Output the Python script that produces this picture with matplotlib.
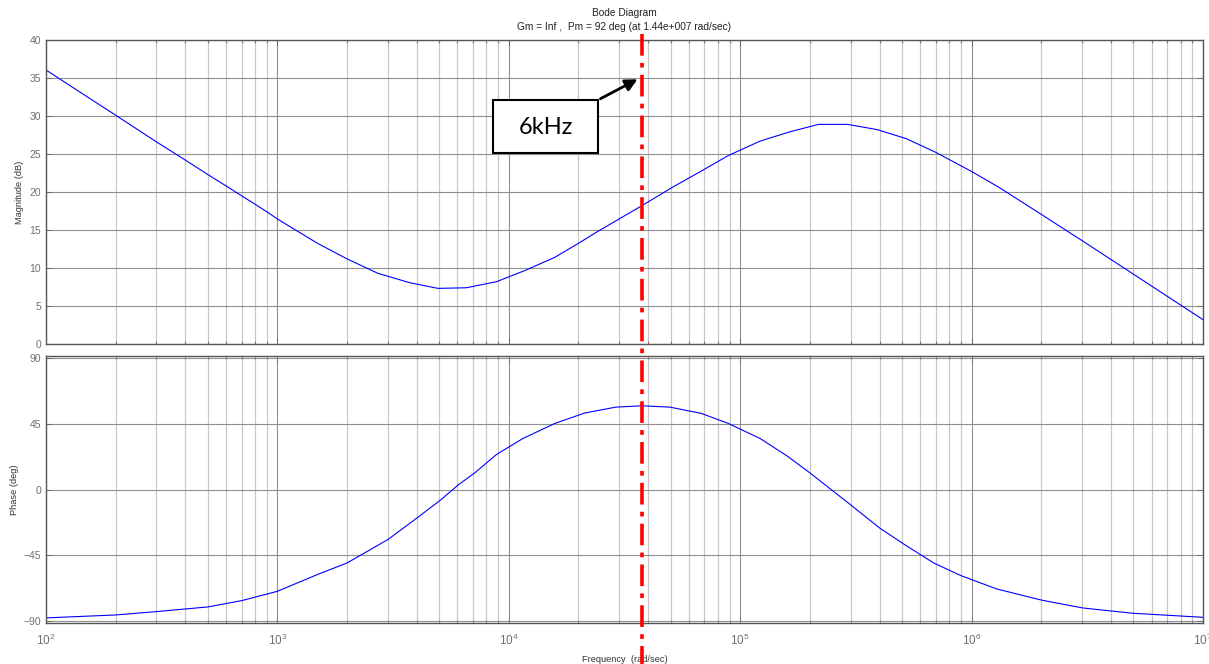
import numpy as np
import matplotlib
matplotlib.use('Agg')
import matplotlib.pyplot as plt
from matplotlib.patches import Rectangle, FancyArrowPatch

# magnitude curve (rad/sec, dB)
mag_freq = [100, 200, 300, 400, 500, 600, 700, 800, 900, 1000, 1490, 2000, 2717, 3725,
            4940, 6560, 8850, 11800, 15800, 20000, 24200, 37600, 50800, 66500, 88900,
            122000, 163000, 218000, 291000, 392000, 524000, 702000, 1000000, 1315000,
            2014000, 3020000, 4940000, 10000000]
mag_db = [36.05, 30.1, 26.6, 24.2, 22.3, 20.8, 19.5, 18.4, 17.4, 16.45, 13.25, 11.2, 9.3,
          8.07, 7.32, 7.4, 8.2, 9.7, 11.4, 13.25, 14.8, 18.2, 20.6, 22.6, 24.8, 26.7,
          27.9, 28.9, 28.9, 28.2, 27.0, 25.2, 22.7, 20.6, 17.0, 13.55, 9.3, 3.2]

# phase curve (rad/sec, deg)
ph_freq = [100, 200, 300, 500, 700, 1000, 1490, 2000, 3000, 4050, 5100, 6030, 7130,
           8850, 11500, 15800, 21200, 29000, 37600, 49700, 67900, 88900, 122000,
           160000, 200000, 299000, 400000, 513000, 686000, 897000, 1285000, 2014000,
           3020000, 4940000, 10000000]
ph_deg = [-87.9, -85.9, -83.6, -80.4, -76.1, -69.7, -58.2, -50.3, -34.3, -19.0, -6.9,
          3.0, 11.4, 24.0, 34.9, 45.2, 52.3, 56.4, 57.3, 56.4, 52.1, 45.2, 34.9, 22.8,
          11.4, -10.3, -26.3, -37.7, -50.3, -58.9, -68.1, -75.8, -81.1, -84.7, -87.5]

f_mark = 2 * np.pi * 6000  # 6 kHz in rad/sec

plt.rcParams['font.family'] = ['Liberation Sans', 'DejaVu Sans']

fig = plt.figure(figsize=(12.09, 6.64), dpi=100)
ax1 = fig.add_axes([46 / 1209, 1 - 344 / 664, 1157 / 1209, 304 / 664])
ax2 = fig.add_axes([46 / 1209, 1 - 623 / 664, 1157 / 1209, 267 / 664])
ax1.set_zorder(3)

for ax in (ax1, ax2):
    ax.set_xscale('log')
    ax.set_xlim(1e2, 1e7)
    ax.grid(True, which='major', axis='both', color='#909090', lw=0.8)
    ax.grid(True, which='minor', axis='x', color='#c8c8c8', lw=0.9)
    ax.set_axisbelow(True)
    ax.tick_params(which='both', direction='in', top=True, right=True,
                   colors='#666666', labelcolor='#707070', labelsize=7.5)
    ax.tick_params(which='major', length=4, width=0.6)
    ax.tick_params(which='minor', length=2.5, width=0.6)
    for s in ax.spines.values():
        s.set_color('#555555')
        s.set_linewidth(1.0)

ax1.plot(mag_freq, mag_db, color='blue', lw=0.8)
ax1.set_ylim(0, 40)
ax1.set_yticks(range(0, 41, 5))
ax1.tick_params(axis='x', which='both', labelbottom=False)
ax1.set_ylabel('Magnitude (dB)', color='#333333', fontsize=6.7, labelpad=4)

ax2.plot(ph_freq, ph_deg, color='blue', lw=0.8)
ax2.set_ylim(-91.4, 91.4)
ax2.set_yticks([-90, -45, 0, 45, 90])
ax2.set_ylabel('Phase (deg)', color='#333333', fontsize=6.7, labelpad=3)
ax2.set_xlabel('Frequency  (rad/sec)', color='#333333', fontsize=6.7, labelpad=5)
ax2.tick_params(axis='x', pad=7, labelsize=8.5)

# red 6 kHz marker through both plots
ax1.plot([f_mark, f_mark], [40.8, -45], color='red', lw=2.6,
         linestyle=(0, (6, 2, 1.3, 2)), clip_on=False, zorder=5)

fig.text(0.5165, 1 - 13 / 664, 'Bode Diagram', ha='center', va='center',
         fontsize=7.3, color='#222222')
fig.text(0.5165, 1 - 27 / 664, 'Gm = Inf ,  Pm = 92 deg (at 1.44e+007 rad/sec)',
         ha='center', va='center', fontsize=7.3, color='#222222')

# annotation box and arrow
fig.add_artist(Rectangle((493 / 1209, 1 - 153 / 664), 105 / 1209, 53 / 664,
                         transform=fig.transFigure, facecolor='white',
                         edgecolor='black', lw=1.5, zorder=10))
fig.text(545.5 / 1209, 1 - 127 / 664, '6kHz', ha='center', va='center',
         fontsize=17, family=['Lato', 'DejaVu Sans'], color='black', zorder=11)
fig.add_artist(FancyArrowPatch((598 / 1209, 1 - 100 / 664), (640 / 1209, 1 - 78 / 664),
                               transform=fig.transFigure, arrowstyle='-|>',
                               mutation_scale=18, color='black', lw=2, zorder=10))

fig.savefig('out.png', dpi=100)
